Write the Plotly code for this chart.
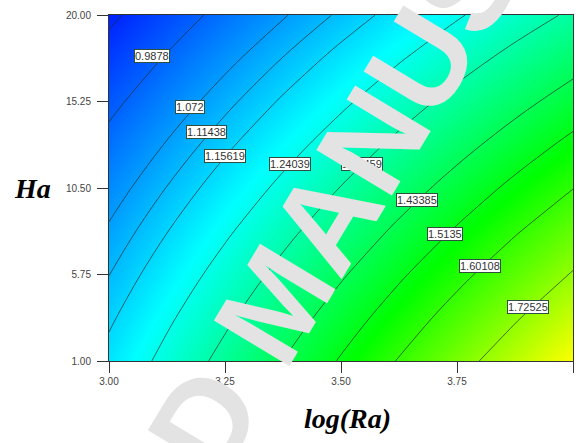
import plotly.graph_objects as go

# Response surface sampled on a 9 x 9 design grid
log_ra = [3.000, 3.125, 3.250, 3.375, 3.500, 3.625, 3.750, 3.875, 4.000]
ha = [1.000, 3.375, 5.750, 8.125, 10.500, 12.875, 15.250, 17.625, 20.000]
nu = [
    [1.1770, 1.2629, 1.3488, 1.4346, 1.5205, 1.6064, 1.6923, 1.7781, 1.8640],
    [1.1459, 1.2280, 1.3098, 1.3915, 1.4731, 1.5545, 1.6357, 1.7168, 1.7977],
    [1.1135, 1.1918, 1.2699, 1.3476, 1.4250, 1.5021, 1.5789, 1.6553, 1.7315],
    [1.0797, 1.1546, 1.2289, 1.3029, 1.3763, 1.4493, 1.5218, 1.5939, 1.6654],
    [1.0445, 1.1161, 1.1870, 1.2573, 1.3270, 1.3961, 1.4645, 1.5323, 1.5995],
    [1.0079, 1.0764, 1.1441, 1.2110, 1.2771, 1.3424, 1.4069, 1.4707, 1.5337],
    [0.9700, 1.0355, 1.1001, 1.1638, 1.2265, 1.2883, 1.3491, 1.4090, 1.4680],
    [0.9307, 0.9935, 1.0552, 1.1158, 1.1753, 1.2337, 1.2911, 1.3473, 1.4024],
    [0.8900, 0.9503, 1.0093, 1.0670, 1.1235, 1.1788, 1.2328, 1.2855, 1.3370],
]

# Contour levels (first one is unlabelled)
levels = [0.9036, 0.9878, 1.072, 1.11438, 1.15619, 1.24039,
          1.32459, 1.43385, 1.5135, 1.60108, 1.72525]
label_levels = levels[1:]
label_x = [3.093, 3.175, 3.211, 3.250, 3.390, 3.545, 3.664, 3.724, 3.800, 3.903]
label_y = [17.75, 14.95, 13.57, 12.26, 11.82, 11.82, 9.84, 7.97, 6.22, 3.96]

x_ticks = [3.00, 3.25, 3.50, 3.75, 4.00]
y_ticks = [1.00, 5.75, 10.50, 15.25, 20.00]

colorscale = [
    [0.0, "rgb(0,30,255)"],
    [1 / 3, "rgb(0,255,255)"],
    [2 / 3, "rgb(0,255,0)"],
    [1.0, "rgb(255,255,0)"],
]

fig = go.Figure()
fig.add_trace(go.Heatmap(
    x=log_ra, y=ha, z=nu, zsmooth="best",
    colorscale=colorscale, zmin=0.888, zmax=1.864,
    showscale=False, hoverinfo="skip",
))
# one iso-line per trace so the levels can be unevenly spaced
for lv in levels:
    fig.add_trace(go.Contour(
        x=log_ra, y=ha, z=nu,
        contours=dict(type="constraint", operation="=", value=lv, showlabels=False),
        line=dict(color="rgba(30,40,35,0.85)", width=0.8, smoothing=1.0),
        fillcolor="rgba(0,0,0,0)",
        showscale=False, showlegend=False, hoverinfo="skip",
    ))

tick_font = dict(family="Liberation Sans, Arial, sans-serif", size=10, color="#444")
axis_common = dict(
    showgrid=False, zeroline=False, showline=True, linecolor="#333", linewidth=1,
    mirror=True, ticks="outside", ticklen=11, tickcolor="#333", tickwidth=1,
    tickfont=tick_font,
)
fig.update_xaxes(range=[3, 4], tickvals=x_ticks,
                 ticktext=[f"{v:.2f}" for v in x_ticks], **axis_common)
fig.update_yaxes(range=[1, 20], tickvals=y_ticks, ticklabelstandoff=4,
                 ticktext=[f"{v:.2f}" for v in y_ticks], **axis_common)

annotations = []
for lv, lx, ly in zip(label_levels, label_x, label_y):
    annotations.append(dict(
        x=lx, y=ly, xref="x", yref="y", text=f"{lv:g}", showarrow=False,
        xanchor="center", yanchor="middle",
        font=dict(family="Liberation Sans, Arial, sans-serif", size=11, color="#333"),
        bgcolor="white", bordercolor="#2f4f3f", borderwidth=1, borderpad=0,
    ))

title_font = dict(family="Liberation Serif, Times New Roman, serif", size=28, color="black")
annotations.append(dict(x=-0.164, y=0.5, xref="paper", yref="paper",
                        xanchor="center", yanchor="middle",
                        text="<b><i>Ha</i></b>", showarrow=False, font=title_font))
annotations.append(dict(x=0.515, y=-0.165, xref="paper", yref="paper",
                        xanchor="center", yanchor="middle",
                        text="<b><i>log(Ra)</i></b>", showarrow=False, font=title_font))

# Diagonal manuscript watermark
annotations.append(dict(
    x=0.3599, y=0.1734, xref="paper", yref="paper",
    xanchor="center", yanchor="middle",
    text="<b>ACCEPTED MANUSCRIPT</b>", showarrow=False, textangle=-59,
    font=dict(family="Liberation Sans, Arial, sans-serif", size=128, color="#e3e3e3"),
))

fig.update_layout(
    width=582, height=443,
    margin=dict(l=109, r=9, t=15, b=82),
    paper_bgcolor="white", plot_bgcolor="white",
    showlegend=False,
    annotations=annotations,
)

fig.write_html("out.html")
